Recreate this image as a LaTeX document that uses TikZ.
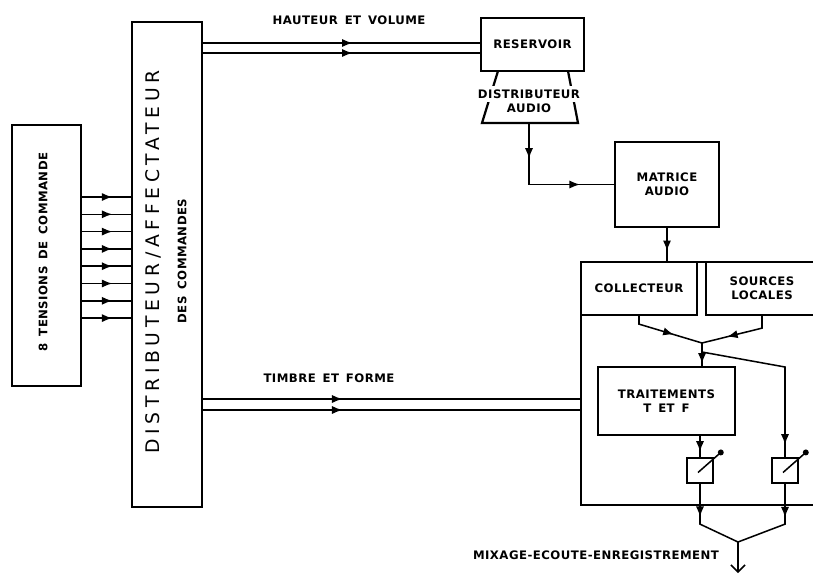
\documentclass[tikz,border=0pt]{standalone}
\usepackage{fontspec}
\usetikzlibrary{arrows.meta, decorations.markings, calc}
\newfontfamily\leroy[LetterSpace=4, WordSpace=1.5]{DejaVu Sans}
\newfontfamily\bigleroy[LetterSpace=25]{DejaVu Sans}

\begin{document}
\begin{tikzpicture}[x=0.03cm, y=-0.03cm,
    bloc/.style={draw, line width=1.9pt, inner sep=0pt},
    taille/.style 2 args={minimum width=#1*0.03cm, minimum height=#2*0.03cm},
    lbl/.style={font=\leroy\bfseries\fontsize{10}{12}\selectfont, inner sep=1pt, align=center},
    fil/.style={line width=1.3pt},
    fleche/.style={postaction={decorate}, decoration={markings,
        mark=at position #1 with {\arrow{Latex[length=9pt, width=7pt]}}}},
    fleche/.default=0.55,
    curseur/.style={line width=1.3pt, -{Circle[length=5pt]}}]
  \useasboundingbox (0,0) rectangle (813,574);

  % Tensions de commande
  \node[bloc, taille={69}{261}] (tensions) at (46.5,255.5) {};
  \node[lbl, rotate=90] (tensionslbl) at (43,252) {8 TENSIONS DE COMMANDE};

  % Distributeur / affectateur
  \node[bloc, taille={70}{485}] (distrib) at (167,264.5) {};
  \node[rotate=90, font=\bigleroy\fontsize{16}{18}\selectfont] (distriblbl) at (153,262) {DISTRIBUTEUR/AFFECTATEUR};
  \node[lbl, rotate=90] (descmd) at (182,261) {DES COMMANDES};

  \foreach \y in {197,214.3,231.6,248.9,266.2,283.5,300.8,318.1}
    \draw[fil, fleche=0.62] (tensions.east |- 0,\y) -- (distrib.west |- 0,\y);

  % Hauteur et volume
  \node[bloc, lbl, taille={103}{53}] (reservoir) at (532.5,44.5) {RESERVOIR};
  \draw[fil, fleche=0.54] (distrib.east |- 0,43) -- (reservoir.west |- 0,43);
  \draw[fil, fleche=0.54] (distrib.east |- 0,53) -- (reservoir.west |- 0,53);
  \node[lbl] (hautlbl) at (349,20) {HAUTEUR ET VOLUME};

  % Distributeur audio
  \coordinate (da-hg) at (498,71);
  \coordinate (da-hd) at (568,71);
  \coordinate (da-bg) at (482,123);
  \coordinate (da-bd) at (578,123);
  \coordinate (da-bas) at (529,123);
  \draw[line width=1.9pt] (da-hg) -- (da-bg) -- (da-bd) -- (da-hd);
  \node[lbl, fill=white, inner ysep=3pt] (distaudio) at (529,94) {DISTRIBUTEUR};
  \node[lbl] (audio) at (529,108) {AUDIO};

  % Matrice audio
  \node[bloc, lbl, taille={104}{85}] (matrice) at (667,184.5) {MATRICE\\AUDIO};
  \coordinate (coude) at (da-bas |- matrice.west);
  \draw[fil, fleche=0.58] (da-bas) -- (coude);
  \draw[fil, fleche=0.6] (coude) -- (matrice.west);

  % Bloc de mixage
  \node[bloc, taille={249}{243}] (mixage) at (705.5,383.5) {};
  \node[bloc, lbl, taille={116}{53}] (collecteur) at (639,288.5) {COLLECTEUR};
  \node[bloc, lbl, taille={112}{53}] (sources) at (762,288.5) {SOURCES\\LOCALES};
  \draw[fil, fleche=0.7] (matrice.south) -- (matrice.south |- mixage.north);

  \coordinate (jonction) at (702,343);
  \coordinate (derive) at (702,352);
  \coordinate (coude2) at (785,367);
  \draw[fil, fleche=0.6] (collecteur.south) -- ++(0,8) -- (jonction);
  \draw[fil, fleche=0.65] (sources.south) -- ++(0,12) -- (jonction);

  \node[bloc, lbl, taille={137}{68}] (traitements) at (666.5,401) {TRAITEMENTS\\T ET F};
  \draw[fil, fleche=0.9] (jonction) -- (jonction |- traitements.north);

  % Potentiometres
  \node[bloc, taille={26}{25}] (fader1) at (700,470.5) {};
  \node[bloc, taille={26}{25}] (fader2) at (785,470.5) {};
  \draw[fil, fleche=0.75] (fader1.north |- traitements.south) -- (fader1.north);
  \draw[fil, fleche=0.93] (derive) -- (coude2) -- (fader2.north);
  \draw[curseur] ($(fader1.center)+(-2,2)$) -- ++(25,-22);
  \draw[curseur] ($(fader2.center)+(-2,2)$) -- ++(25,-22);

  % Sortie
  \coordinate (sortie) at (738,542);
  \coordinate (fin) at (738,573);
  \draw[fil, fleche=0.4] (fader1.south) -- ++(0,40) -- (sortie);
  \draw[fil, fleche=0.37] (fader2.south) -- ++(0,40) -- (sortie);
  \draw[fil, -{Straight Barb[length=6pt]}] (sortie) -- (fin);
  \node[lbl] (mixlbl) at (596,555) {MIXAGE-ECOUTE-ENREGISTREMENT};

  % Timbre et forme
  \draw[fil, fleche=0.37] (distrib.east |- 0,399) -- (mixage.west |- 0,399);
  \draw[fil, fleche=0.37] (distrib.east |- 0,410) -- (mixage.west |- 0,410);
  \node[lbl] (timbrelbl) at (329,378) {TIMBRE ET FORME};
\end{tikzpicture}
\end{document}
